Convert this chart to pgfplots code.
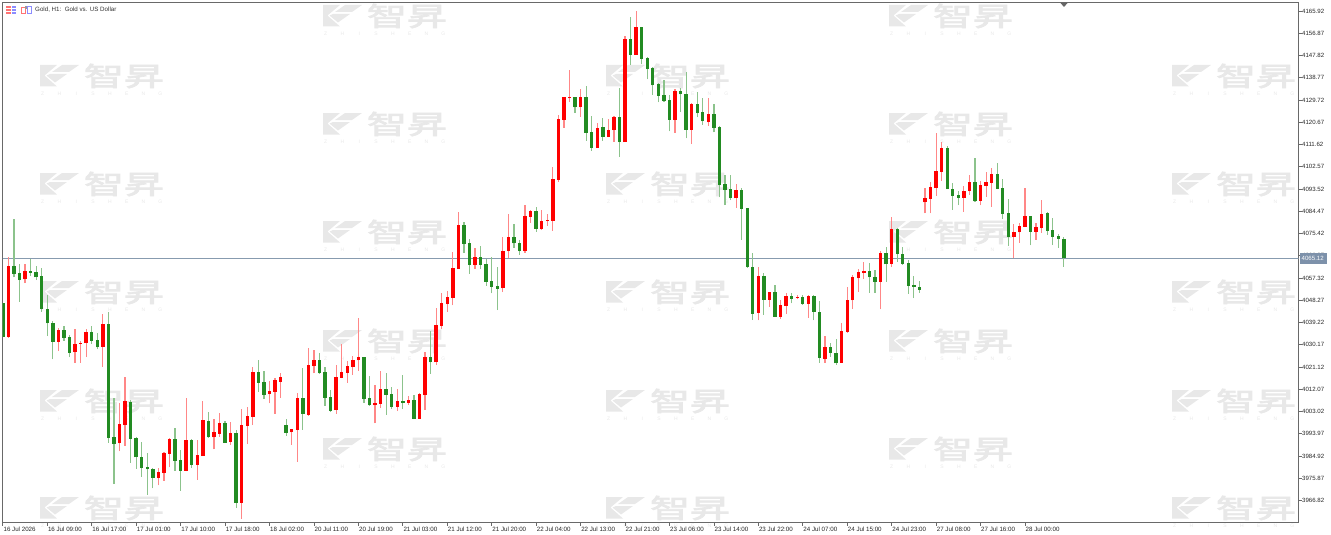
\documentclass[border=0pt]{standalone}
\usepackage{fontspec}
\setmainfont{Liberation Sans}
\newfontfamily\cjk[FakeBold=2.5]{Noto Sans CJK SC}
\usepackage{pgfplots}
\usepackage{pgfplotstable}
\pgfplotsset{compat=1.18}

\definecolor{upred}{RGB}{255,0,0}
\definecolor{downgreen}{RGB}{34,139,34}
\definecolor{upwick}{RGB}{255,135,135}
\definecolor{downwick}{RGB}{140,195,140}
\definecolor{edgegrey}{RGB}{105,105,105}
\definecolor{priceline}{RGB}{135,155,175}
\definecolor{pricebox}{RGB}{125,145,170}
\definecolor{wmgrey}{RGB}{232,232,232}

% red candles: bar index, high, body top, body bottom, low
\pgfplotstableread{
i high top bot low
1 4066.0 4062.3 4033.5 4033.0
4 4063.0 4060.3 4056.8 4055.2
10 4037.0 4036.2 4031.3 4027.6
13 4036.4 4030.6 4027.2 4022.9
14 4031.8 4031.0 4030.6 4022.9
15 4036.4 4035.4 4030.8 4025.1
18 4042.5 4038.6 4029.4 4021.3
21 4006.6 3997.9 3990.1 3986.8
22 4016.9 4007.3 3997.5 3989.0
28 3980.0 3978.4 3976.0 3973.0
29 3986.5 3986.0 3978.1 3974.9
30 3992.2 3992.0 3985.7 3980.3
33 4008.7 3991.4 3979.0 3978.7
35 3991.4 3985.2 3981.4 3975.2
36 4007.3 3999.6 3984.9 3984.9
38 3999.8 3994.5 3992.5 3987.6
39 4002.3 3998.2 3993.9 3992.8
41 3998.8 3994.1 3990.6 3989.5
43 4003.9 3997.5 3965.9 3959.4
44 4004.7 4001.2 3997.1 3989.8
45 4021.3 4019.1 4000.9 3997.5
48 4015.6 4011.4 4010.0 4006.3
49 4016.5 4015.7 4011.1 4002.1
50 4018.5 4017.1 4015.2 4008.7
52 3995.8 3995.8 3994.5 3989.4
53 4010.4 4008.5 3995.5 3982.5
55 4028.7 4021.9 4001.7 4001.2
56 4028.0 4024.1 4021.5 4018.5
60 4021.9 4017.1 4003.6 4002.1
61 4030.6 4019.1 4016.8 4016.5
62 4023.6 4021.4 4018.8 4014.8
63 4025.6 4024.1 4021.1 4017.9
64 4040.9 4025.2 4023.8 4019.6
67 4013.7 4006.3 4005.5 3998.2
68 4019.6 4012.0 4006.1 4004.4
71 4012.0 4007.4 4005.0 4003.2
73 4009.3 4007.6 4006.6 4005.7
75 4010.7 4010.1 4000.1 4000.1
76 4027.2 4025.1 4009.7 4003.6
78 4045.1 4038.1 4023.0 4021.9
79 4051.1 4047.0 4037.8 4036.4
80 4051.9 4049.6 4046.7 4043.6
81 4068.0 4061.4 4049.3 4046.2
82 4084.2 4078.7 4061.1 4060.9
85 4069.7 4066.0 4062.7 4061.0
90 4073.9 4068.4 4053.1 4051.6
91 4083.2 4074.1 4068.3 4065.3
94 4087.2 4082.4 4068.3 4067.6
95 4085.0 4084.7 4082.1 4079.8
97 4085.0 4080.5 4077.1 4076.8
98 4083.2 4080.9 4080.5 4078.5
99 4102.3 4097.6 4080.6 4076.6
100 4123.6 4122.0 4097.2 4096.5
101 4130.8 4130.8 4121.6 4118.5
102 4141.8 4130.9 4130.4 4129.0
104 4134.1 4130.9 4126.7 4122.9
107 4120.2 4118.3 4110.3 4110.3
109 4121.9 4117.7 4114.8 4114.5
110 4123.3 4122.7 4117.5 4112.8
112 4155.8 4154.7 4112.6 4112.6
114 4166.1 4159.3 4148.2 4148.2
121 4134.1 4133.5 4121.6 4116.3
124 4128.4 4128.0 4117.7 4111.8
127 4130.4 4124.0 4120.6 4119.1
132 4095.6 4093.1 4089.7 4085.8
136 4061.7 4058.1 4043.1 4040.1
138 4051.6 4051.6 4048.4 4045.7
140 4048.4 4046.2 4041.6 4040.8
141 4051.1 4050.0 4046.1 4042.7
143 4050.4 4049.7 4049.2 4048.6
145 4050.4 4049.9 4046.7 4041.2
148 4033.7 4029.3 4024.4 4022.9
151 4039.2 4035.8 4022.9 4022.9
152 4053.7 4048.4 4035.4 4035.1
153 4058.5 4057.6 4048.2 4044.7
154 4060.8 4059.8 4057.2 4051.6
155 4064.0 4060.2 4059.5 4057.1
158 4068.4 4067.4 4055.8 4044.6
160 4082.1 4077.3 4063.2 4061.8
166 4093.8 4089.7 4088.1 4083.6
167 4096.5 4094.3 4089.5 4083.6
168 4116.3 4100.8 4093.9 4090.7
169 4112.6 4110.2 4100.6 4096.9
173 4094.7 4092.8 4089.9 4084.2
174 4099.2 4096.2 4092.7 4091.2
176 4096.8 4095.1 4088.6 4086.9
177 4100.6 4096.4 4094.9 4090.3
178 4102.2 4099.6 4096.0 4086.3
182 4079.3 4076.2 4073.9 4065.3
183 4079.6 4078.5 4075.9 4071.7
184 4093.9 4082.5 4078.1 4077.9
186 4079.6 4077.9 4076.2 4072.8
187 4089.2 4083.5 4077.5 4075.8
}\redbars

% green candles, same columns
\pgfplotstableread{
i high top bot low
0 4047.0 4047.0 4033.5 4033.5
2 4081.3 4062.3 4059.0 4057.6
3 4063.0 4059.2 4056.5 4047.7
5 4065.2 4060.3 4059.5 4058.1
6 4062.2 4059.8 4057.6 4056.5
7 4061.3 4058.1 4044.6 4043.6
8 4050.4 4044.6 4038.9 4033.7
9 4040.0 4039.2 4031.3 4024.2
11 4037.8 4036.2 4032.9 4031.8
12 4034.1 4033.2 4027.0 4025.1
16 4037.8 4035.4 4031.8 4030.5
17 4034.8 4032.1 4029.1 4028.3
19 4043.4 4038.6 3992.2 3990.3
20 4008.4 3992.5 3989.8 3973.5
23 4007.7 4007.0 3992.0 3982.2
24 3992.8 3992.2 3984.4 3979.8
25 3990.5 3984.6 3980.0 3976.5
26 3986.3 3980.3 3979.5 3969.1
27 3980.2 3979.8 3976.0 3971.8
31 3996.2 3992.0 3982.9 3979.0
32 3987.4 3983.2 3979.0 3970.8
34 3991.7 3991.4 3981.4 3980.0
37 4002.8 3999.3 3992.5 3992.4
40 3999.3 3998.2 3990.3 3990.2
42 3995.5 3994.1 3965.9 3963.9
46 4024.0 4019.1 4014.8 4011.0
47 4019.5 4015.0 4009.7 4008.1
51 4000.1 3997.5 3994.4 3993.1
54 4020.9 4008.5 4002.0 3995.5
57 4026.7 4024.1 4018.5 4018.3
58 4021.0 4019.1 4008.7 4005.3
59 4011.8 4008.9 4003.4 4002.8
65 4025.3 4025.2 4008.1 4006.6
66 4017.5 4008.4 4005.5 4005.4
69 4018.5 4012.0 4009.7 4001.6
70 4013.1 4010.0 4005.0 4004.2
72 4017.9 4007.4 4006.6 4004.0
74 4009.7 4007.7 4000.1 3999.8
77 4035.8 4025.1 4023.0 4018.3
83 4080.1 4078.7 4071.2 4067.6
84 4073.0 4071.4 4062.7 4059.0
86 4070.3 4066.0 4062.7 4060.9
87 4064.9 4063.0 4055.8 4054.1
88 4065.7 4056.1 4053.8 4051.1
89 4061.7 4054.1 4053.0 4044.3
92 4079.3 4074.1 4071.4 4069.7
93 4072.8 4071.7 4068.3 4066.7
96 4086.3 4084.7 4077.3 4076.2
103 4131.1 4130.9 4126.7 4124.6
105 4135.3 4130.9 4116.3 4113.2
106 4123.1 4116.6 4110.3 4109.0
108 4122.3 4118.6 4114.8 4113.2
111 4134.5 4122.8 4112.6 4106.7
113 4163.5 4154.7 4148.2 4144.0
115 4159.5 4159.3 4146.5 4144.2
116 4147.3 4146.7 4142.3 4138.1
117 4143.3 4142.6 4135.7 4131.8
118 4136.5 4136.1 4131.5 4128.8
119 4137.9 4131.8 4129.4 4129.0
120 4131.8 4129.9 4121.6 4117.0
122 4134.5 4133.5 4132.0 4124.8
123 4141.2 4132.2 4117.7 4114.1
125 4132.8 4128.1 4124.3 4122.7
126 4130.4 4124.7 4121.0 4119.6
128 4128.1 4124.2 4118.3 4116.6
129 4119.1 4118.6 4095.1 4090.1
130 4099.2 4095.4 4093.1 4087.0
131 4099.2 4093.5 4089.7 4089.0
133 4093.8 4093.2 4085.4 4072.8
134 4085.8 4085.7 4061.7 4061.4
135 4067.4 4061.7 4042.8 4040.4
137 4059.2 4058.0 4048.5 4042.4
139 4054.6 4051.5 4041.6 4041.6
142 4051.1 4049.9 4048.9 4047.0
144 4050.4 4049.6 4046.7 4046.5
146 4050.4 4050.0 4043.5 4040.1
147 4048.1 4043.6 4024.8 4022.9
149 4030.8 4029.3 4026.8 4025.3
150 4032.4 4027.0 4022.6 4022.1
156 4063.3 4060.0 4057.6 4051.4
157 4060.6 4057.7 4055.8 4051.4
159 4070.1 4067.6 4062.9 4055.8
161 4077.8 4077.3 4067.0 4064.0
162 4070.1 4067.1 4063.2 4062.7
163 4064.6 4063.4 4054.1 4051.0
164 4058.0 4054.3 4053.7 4049.1
165 4056.1 4053.8 4052.4 4051.4
170 4111.0 4110.2 4093.5 4093.4
171 4095.8 4093.7 4090.7 4085.0
172 4092.7 4090.9 4090.0 4087.0
175 4106.1 4096.4 4088.5 4088.4
179 4104.1 4099.6 4093.7 4093.4
180 4097.6 4093.9 4083.5 4081.5
181 4089.5 4083.8 4073.9 4070.3
185 4082.5 4082.4 4076.2 4070.6
188 4084.2 4083.6 4076.4 4074.9
189 4081.7 4076.7 4074.0 4070.7
190 4075.2 4074.3 4073.2 4069.7
191 4073.9 4073.3 4065.3 4061.8
}\greenbars

\pgfplotsset{
  candle/.style 2 args={no markers, draw=none, forget plot,
    error bars/.cd, y dir=plus, y explicit, error mark=none,
    error bar style={draw=#1, solid, line width=#2, line cap=butt}},
}

% watermark, #1 #2 = its top left corner in pixels
\newcommand{\wm}[2]{%
  \begin{scope}[shift={(#1,#2)}]
    \fill[wmgrey] (0,0) -- (17,0) -- (4.5,10.5) -- (17,21.5) -- (0,21.5) -- cycle;
    \fill[wmgrey] (22,0) -- (39,0) -- (29,7) -- (12,7) -- cycle;
    \fill[wmgrey] (10,9) -- (27,9) -- (15,17.5) -- (6.5,10.5) -- cycle;
    \node[text=wmgrey, inner sep=0pt, anchor=center] at (84,11) {\scalebox{1}[0.66]{\cjk\fontsize{40}{40}\selectfont 智昇}};
    \foreach \c [count=\k from 0] in {Z,H,I,S,H,E,N,G}
      {\node[text=wmgrey, inner sep=0pt] at (2.7+16.8*\k,28.5) {\fontsize{5}{6}\selectfont \c};}
  \end{scope}}

\begin{document}
\begin{tikzpicture}
\useasboundingbox (0,0) rectangle (1331pt,-535pt);

\begin{scope}[x=1pt,y=-1pt]
  \foreach \x in {40,606,1172}
    {\foreach \y in {65,173,281,390,497}
      {\wm{\x}{\y}}}
  \foreach \x in {323,889}
    {\foreach \y in {5,113,221,330,438}
      {\wm{\x}{\y}}}
\end{scope}

\begin{axis}[
    at={(2.5pt,-522.5pt)}, anchor=south west,
    scale only axis,
    width=1296pt, height=520pt,
    xmin=-0.065, xmax=233.24,
    ymin=3957.87, ymax=4169.38,
    axis line style={draw=edgegrey, line width=1pt},
    tick style={draw=edgegrey, line width=0.8pt},
    tick align=outside,
    major tick length=3pt,
    xtick pos=bottom,
    ytick pos=right,
    yticklabel pos=right,
    xtick={0,8,...,184},
    xticklabels={16 Jul 2026,16 Jul 09:00,16 Jul 17:00,17 Jul 01:00,17 Jul 10:00,17 Jul 18:00,18 Jul 02:00,20 Jul 11:00,20 Jul 19:00,21 Jul 03:00,21 Jul 12:00,21 Jul 20:00,22 Jul 04:00,22 Jul 13:00,22 Jul 21:00,23 Jul 06:00,23 Jul 14:00,23 Jul 22:00,24 Jul 07:00,24 Jul 15:00,24 Jul 23:00,27 Jul 08:00,27 Jul 16:00,28 Jul 00:00},
    xticklabel style={anchor=north west, inner sep=0pt, xshift=0.5pt, yshift=-1.5pt, font=\fontsize{6.2}{7}\selectfont, text=black!85},
    ytick={3966.82,3975.87,3984.92,3993.97,4003.02,4012.07,4021.12,4030.17,4039.22,4048.27,4057.32,4066.37,4075.42,4084.47,4093.52,4102.57,4111.62,4120.67,4129.72,4138.77,4147.82,4156.87,4165.92},
    yticklabel style={anchor=west, inner sep=0pt, xshift=0.5pt, font=\fontsize{6.1}{7}\selectfont, text=black!85,
      /pgf/number format/.cd, fixed, fixed zerofill, precision=2, 1000 sep={}, assume math mode=true},
  ]
\addplot[priceline, line width=1pt, forget plot] coordinates {(-0.065,4065.12) (233.24,4065.12)};
\addplot[candle={upwick}{1.2pt}] table[x=i, y=low, y error plus expr=\thisrow{high}-\thisrow{low}] {\redbars};
\addplot[candle={downwick}{1.2pt}] table[x=i, y=low, y error plus expr=\thisrow{high}-\thisrow{low}] {\greenbars};
\addplot[candle={upred}{3.4pt}] table[x=i, y=bot, y error plus expr=\thisrow{top}-\thisrow{bot}] {\redbars};
\addplot[candle={downgreen}{3.4pt}] table[x=i, y=bot, y error plus expr=\thisrow{top}-\thisrow{bot}] {\greenbars};
\end{axis}

\begin{scope}[x=1pt,y=-1pt]
  % last price label
  \fill[pricebox] (1299.5,253) rectangle (1327,264);
  \node[white, inner sep=0pt, anchor=west] at (1301.5,258.5) {\fontsize{6.1}{7}\selectfont 4065.12};
  % shift marker on the top edge
  \fill[black!60] (1060.5,3) -- (1067.5,3) -- (1064,7) -- cycle;
  % title and the two toolbar icons
  \node[text=black!80, inner sep=0pt, anchor=west] at (35,10) {\fontsize{6.2}{7}\selectfont Gold, H1:\ \ Gold vs. US Dollar};
  \fill[red!55] (6,6) rectangle (11,8); \fill[blue!45] (11.5,6) rectangle (16,8);
  \fill[red!55] (6,9) rectangle (11,11); \fill[blue!45] (11.5,9) rectangle (16,11);
  \fill[red!55] (6,12) rectangle (11,14); \fill[blue!45] (11.5,12) rectangle (16,14);
  \draw[red!55, line width=1pt] (21,8) rectangle (25,14);
  \draw[blue!45, line width=1pt] (27,7) rectangle (31,14);
  \fill[black!40] (25,6) rectangle (27,9);
\end{scope}
\end{tikzpicture}
\end{document}
